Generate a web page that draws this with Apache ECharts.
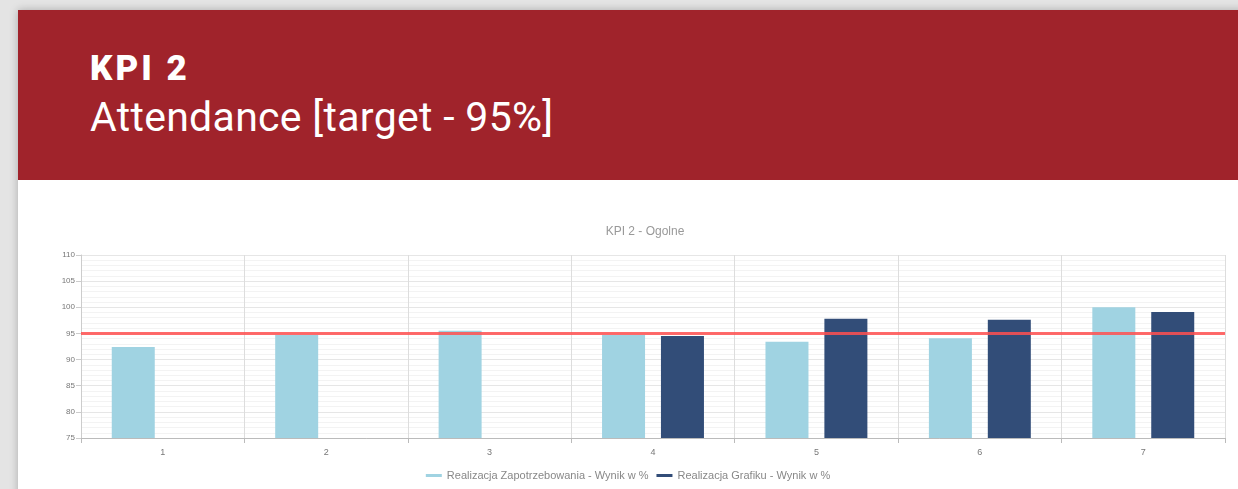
<!DOCTYPE html>
<html>
<head>
<meta charset="utf-8">
<title>KPI 2</title>
<script src="https://cdn.jsdelivr.net/npm/echarts@6/dist/echarts.min.js"></script>
<style>
body{margin:0;background:#e4e4e4;width:1238px;height:489px;overflow:hidden;font-family:Roboto,"Noto Sans",sans-serif;}
.card{position:absolute;left:18px;top:10px;width:1240px;height:500px;background:#fff;box-shadow:0 0 8px rgba(0,0,0,0.25);}
.band{position:absolute;left:0;top:0;width:100%;height:170px;background:#a0232b;}
.band .t1{position:absolute;left:72px;top:38px;color:#fff;font-weight:900;font-size:35px;letter-spacing:3px;}
.band .t2{position:absolute;left:72px;top:83px;color:#fff;font-size:41px;font-weight:400;letter-spacing:0.3px;}
#main{position:absolute;left:0;top:170px;width:1220px;height:309px;}
</style>
</head>
<body>
<div class="card">
	<div class="band">
		<div class="t1">KPI 2</div>
		<div class="t2">Attendance [target - 95%]</div>
	</div>
	<div id="main"></div>
</div>
<script>
var categories = ['1','2','3','4','5','6','7'];
var zapotrzebowanie = [92.4, 94.7, 95.5, 94.7, 93.4, 94.1, 100.0];
var grafik = [null, null, null, 94.5, 97.8, 97.6, 99.1];
var target = 95;

var myChart = echarts.init(document.getElementById('main'));
var option = {
	animation:false,
	title:{
		text:'KPI 2 - Ogolne',
		left:622, top:41,
		textAlign:'center',
		textStyle:{color:'#999',fontSize:12,fontWeight:'normal',fontFamily:'Arial'}
	},
	legend:{
		bottom:3,
		left:'center',
		icon:'rect',
		itemWidth:16, itemHeight:3,
		itemGap:8,
		textStyle:{color:'#888',fontSize:11,fontFamily:'Arial'},
		data:['Realizacja Zapotrzebowania - Wynik w %','Realizacja Grafiku - Wynik w %']
	},
	grid:{left:63, right:13, top:75, bottom:51},
	xAxis:{
		type:'category',
		data:categories,
		axisLine:{lineStyle:{color:'#bbb'}},
		axisTick:{show:true, lineStyle:{color:'#bbb'}},
		axisLabel:{color:'#777',fontSize:9,margin:10},
		splitLine:{show:true,lineStyle:{color:'#ddd'}}
	},
	yAxis:{
		type:'value',
		min:75, max:110, interval:5,
		axisLine:{show:true,lineStyle:{color:'#ccc'}},
		axisTick:{show:true,lineStyle:{color:'#ccc'}},
		axisLabel:{color:'#777',fontSize:8,margin:6},
		splitLine:{lineStyle:{color:'#e6e6e6'}},
		minorTick:{show:false, splitNumber:5},
		minorSplitLine:{show:true,lineStyle:{color:'#f3f3f3'}}
	},
	series:[{
		name:'Realizacja Zapotrzebowania - Wynik w %',
		type:'bar',
		barWidth:43,
		barGap:'37%',
		itemStyle:{color:'#a0d3e2'},
		data:zapotrzebowanie,
		markLine:{
			silent:true,
			symbol:'none',
			label:{show:false},
			lineStyle:{color:'#ff5050',width:3,type:'solid',opacity:0.85},
			data:[{yAxis:target}]
		}
	},{
		name:'Realizacja Grafiku - Wynik w %',
		type:'bar',
		barWidth:43,
		itemStyle:{color:'#324d78'},
		data:grafik
	}]
};
myChart.setOption(option);
</script>
</body>
</html>
